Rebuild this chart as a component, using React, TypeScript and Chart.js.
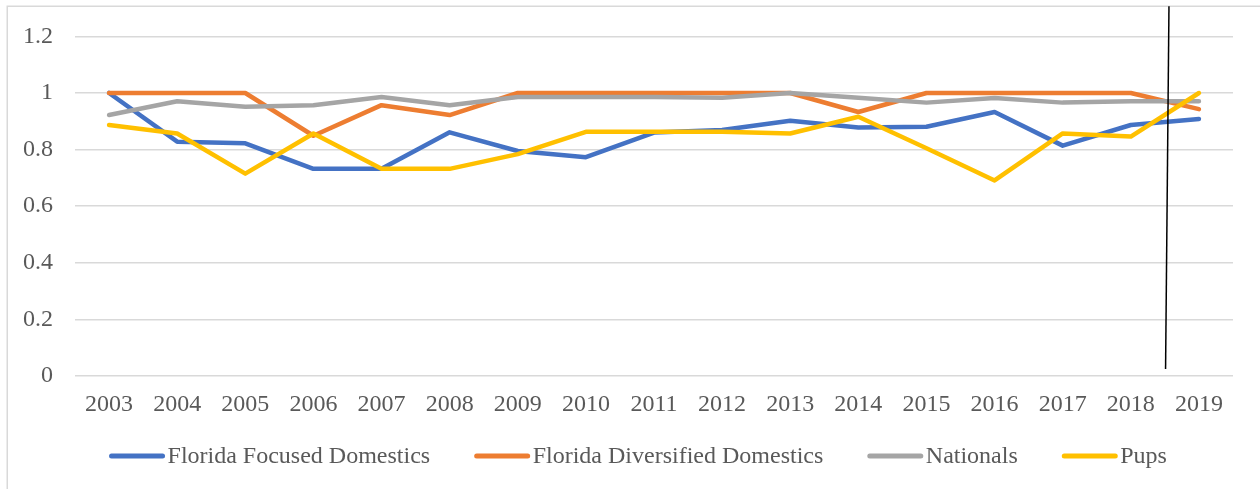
import React, { useEffect, useRef } from "react";
import { Chart, registerables } from "chart.js";

Chart.register(...registerables);

const years = ["2003", "2004", "2005", "2006", "2007", "2008", "2009", "2010", "2011", "2012", "2013", "2014", "2015", "2016", "2017", "2018", "2019"];
const floridaFocused = [1.0, 0.828, 0.822, 0.732, 0.732, 0.861, 0.795, 0.773, 0.86, 0.869, 0.902, 0.878, 0.881, 0.933, 0.814, 0.887, 0.908];
const floridaDiversified = [1.0, 1.0, 1.0, 0.849, 0.957, 0.922, 1.0, 1.0, 1.0, 1.0, 1.0, 0.933, 1.0, 1.0, 1.0, 1.0, 0.943];
const nationals = [0.922, 0.971, 0.951, 0.957, 0.986, 0.957, 0.986, 0.986, 0.986, 0.983, 1.0, 0.983, 0.966, 0.982, 0.966, 0.971, 0.971];
const pups = [0.887, 0.857, 0.715, 0.857, 0.732, 0.732, 0.784, 0.863, 0.863, 0.863, 0.857, 0.916, 0.805, 0.691, 0.857, 0.846, 1.0];
const seriesLabels = ["Florida Focused Domestics", "Florida Diversified Domestics", "Nationals", "Pups"];
const yTicks = [0, 0.2, 0.4, 0.6, 0.8, 1, 1.2];

const COLORS = ["#4472C4", "#ED7D31", "#A5A5A5", "#FFC000"];
const FONT = "'Liberation Serif', 'Times New Roman', serif";
const TEXT = "#595959";
const GRID = "#D9D9D9";

// divider annotation (between 2018 and 2019), in scale units
const dividerTopIndex = 15.56;
const dividerBottomIndex = 15.51;
const dividerBottomValue = 0.025;

const framePlugin = {
  id: "frame",
  beforeDraw(chart: any) {
    const ctx = chart.ctx;
    ctx.save();
    ctx.fillStyle = "#ffffff";
    ctx.fillRect(0, 0, chart.width, chart.height);
    ctx.strokeStyle = GRID;
    ctx.lineWidth = 1.5;
    ctx.beginPath();
    ctx.moveTo(7.25, chart.height + 5);
    ctx.lineTo(7.25, 6.25);
    ctx.lineTo(chart.width + 5, 6.25);
    ctx.stroke();
    ctx.restore();
  },
  afterDraw(chart: any) {
    const ctx = chart.ctx;
    const xs = chart.scales.x;
    const ys = chart.scales.y;
    // divider line
    ctx.save();
    ctx.strokeStyle = "#000000";
    ctx.lineWidth = 1.5;
    ctx.beginPath();
    ctx.moveTo(xs.getPixelForValue(dividerTopIndex), 6.25);
    ctx.lineTo(xs.getPixelForValue(dividerBottomIndex), ys.getPixelForValue(dividerBottomValue));
    ctx.stroke();
    ctx.restore();

    // legend
    ctx.save();
    ctx.font = `24px ${FONT}`;
    ctx.textBaseline = "middle";
    const lineLen = 51;
    const gap = 5;
    const spacing = 44;
    const datasets = chart.data.datasets;
    const widths = datasets.map((d: any) => ctx.measureText(d.label).width);
    let total = 0;
    datasets.forEach((d: any, i: number) => {
      total += 2.5 + lineLen + gap + widths[i];
      if (i < datasets.length - 1) total += spacing;
    });
    const center = 638;
    let x = center - total / 2;
    const y = 456;
    datasets.forEach((d: any, i: number) => {
      ctx.strokeStyle = d.borderColor;
      ctx.lineWidth = 5;
      ctx.lineCap = "round";
      ctx.beginPath();
      ctx.moveTo(x + 2.5, y);
      ctx.lineTo(x + 2.5 + lineLen, y);
      ctx.stroke();
      ctx.fillStyle = TEXT;
      ctx.textAlign = "left";
      ctx.fillText(d.label, x + 2.5 + lineLen + gap, y + 1);
      x += 2.5 + lineLen + gap + widths[i] + spacing;
    });
    ctx.restore();
  },
};

export default function App() {
  const ref = useRef<HTMLCanvasElement | null>(null);
  useEffect(() => {
    document.body.style.margin = "0";
    const canvas = ref.current;
    if (!canvas) return;
    const seriesData = [floridaFocused, floridaDiversified, nationals, pups];
    const chart = new Chart(canvas, {
      type: "line",
      data: {
        labels: years,
        datasets: seriesData.map((data, i) => ({
          label: seriesLabels[i],
          data,
          borderColor: COLORS[i],
          backgroundColor: COLORS[i],
          borderWidth: 4.5,
          borderJoinStyle: "round" as const,
          borderCapStyle: "round" as const,
          pointRadius: 0,
          pointHoverRadius: 0,
          tension: 0,
          fill: false,
          order: seriesData.length - i,
        })),
      },
      options: {
        animation: false,
        responsive: false,
        maintainAspectRatio: false,
        events: [],
        layout: { padding: { left: 0, right: 27, top: 35, bottom: 53 } },
        plugins: { legend: { display: false }, tooltip: { enabled: false } },
        scales: {
          x: {
            offset: true,
            grid: { display: false, drawTicks: false },
            border: { display: false },
            ticks: { color: TEXT, font: { family: FONT, size: 24 }, padding: 14, maxRotation: 0, autoSkip: false },
            afterFit: (s: any) => { s.height = 60; },
          },
          y: {
            min: 0,
            max: 1.2,
            afterBuildTicks: (s: any) => { s.ticks = yTicks.map((v) => ({ value: v })); },
            grid: { color: GRID, lineWidth: 1.5, drawTicks: false },
            border: { display: false },
            ticks: { color: TEXT, font: { family: FONT, size: 24 }, padding: 22, callback: (v: any) => String(Math.round(Number(v) * 10) / 10) },
            afterFit: (s: any) => { s.width = 75; },
          },
        },
      },
      plugins: [framePlugin],
    });
    return () => chart.destroy();
  }, []);
  return (
    <div style={{ width: 1260, height: 489 }}>
      <canvas ref={ref} width={1260} height={489} style={{ display: "block", width: 1260, height: 489 }} />
    </div>
  );
}
